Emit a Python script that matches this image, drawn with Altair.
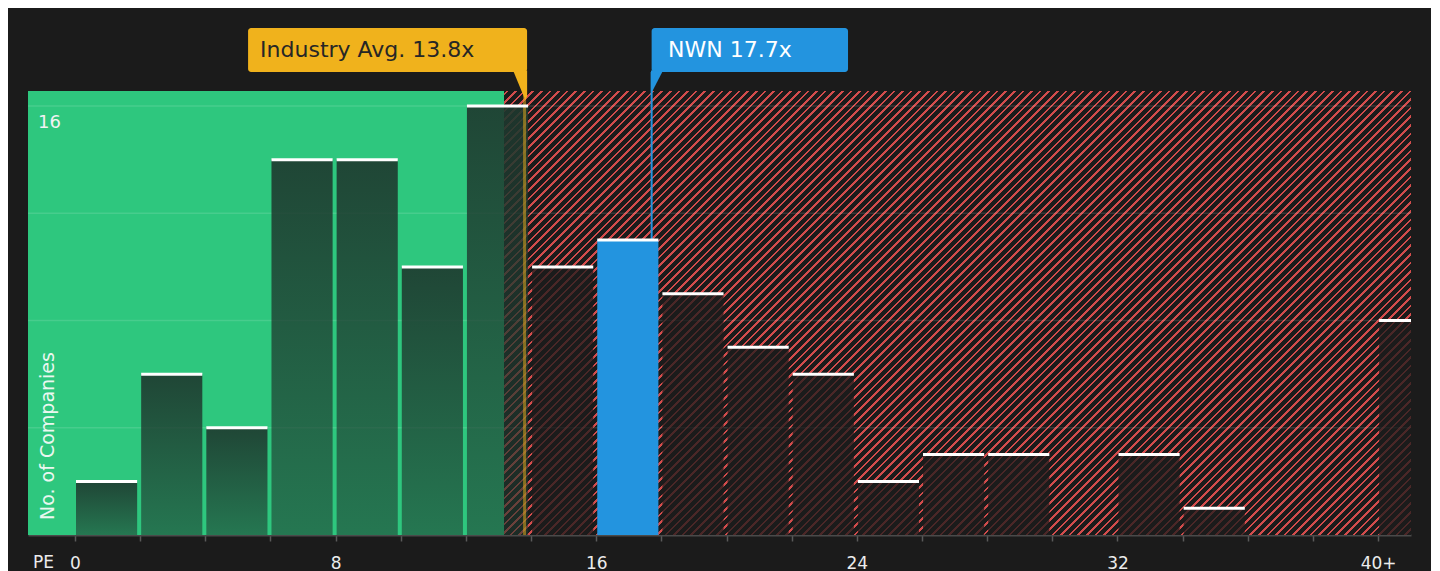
import altair as alt
import pandas as pd

# ---------------- data ----------------
bin_starts = [0, 2, 4, 6, 8, 10, 12, 14, 16, 18, 20, 22, 24, 26, 28, 30, 32, 34, 36, 38, 40]
counts = [2, 6, 4, 14, 14, 10, 16, 10, 11, 9, 7, 6, 2, 3, 3, 0, 3, 1, 0, 0, 8]
BIN_WIDTH = 2
tick_values = list(range(0, 42, 2))
label_every = 8
y_label_values = [16]
grid_values = [4, 8, 12, 16]

INDUSTRY_AVG = 13.8
NWN_PE = 17.7
GREEN_END = 13.17
X_DOMAIN = [-1.443, 41.01]
Y_DOMAIN = [0, 16.56]

# ---------------- style ----------------
W, H = 1383, 444
BG = "#1b1b1b"
GREEN = "#2ec77e"
RED = "#d24c4c"
YELLOW = "#f0b21c"
BLUE = "#2394df"
FONT = "DejaVu Sans"

bars = pd.DataFrame({"start": bin_starts, "count": counts})
bars["end"] = bars["start"] + BIN_WIDTH
nwn_count = int(bars[(bars.start <= NWN_PE) & (bars.end > NWN_PE)]["count"].iloc[0])

# hatch pattern as a striped linear gradient (stripes of slope 45deg)
hatch_w = (X_DOMAIN[1] - GREEN_END) * W / (X_DOMAIN[1] - X_DOMAIN[0])
hatch_h = H
L = hatch_w + hatch_h
s = (hatch_w + hatch_h) * hatch_w / (hatch_w ** 2 + hatch_h ** 2)
period = 8.6
red_w = 2.6
stops = [{"offset": 0, "color": BG}]
k = 0
while k * period < L:
    a = (k * period + 2.0) / L
    b = (k * period + 2.0 + red_w) / L
    if a >= 1:
        break
    b = min(b, 1)
    stops += [{"offset": a, "color": BG}, {"offset": a, "color": RED},
              {"offset": b, "color": RED}, {"offset": b, "color": BG}]
    k += 1
stops.append({"offset": 1, "color": BG})
hatch_fill = {"gradient": "linear", "x1": 0, "y1": 0, "x2": s, "y2": s * hatch_h / hatch_w,
              "stops": stops}

green_bar_fill = {"gradient": "linear", "x1": 0, "y1": 0, "x2": 0, "y2": 1,
                  "stops": [{"offset": 0, "color": "rgba(30,56,46,0.9)"},
                            {"offset": 1, "color": "rgba(30,56,46,0.56)"}]}

xs = alt.Scale(domain=X_DOMAIN, nice=False, zero=False)
ys = alt.Scale(domain=Y_DOMAIN, nice=False, zero=False)

label_expr = (f"datum.value % {label_every} == 0 ? "
              f"(datum.value == {tick_values[-1]} ? datum.label + '+' : datum.label) : ''")
x_axis = alt.Axis(values=tick_values, labelExpr=label_expr, grid=False, title=None,
                  domainColor="#4a4a4a", domainWidth=2, tickColor="#5a5a5a", tickWidth=1.5,
                  tickSize=6, labelColor="#ececec", labelFontSize=17, labelFont=FONT,
                  labelPadding=22, labelBaseline="middle", labelOverlap=False, labelBound=False)

zones = pd.DataFrame({"x0": [X_DOMAIN[0], GREEN_END], "x1": [GREEN_END, X_DOMAIN[1]],
                      "zone": ["green", "red"]})

green_zone = alt.Chart(zones).transform_filter("datum.zone == 'green'").transform_calculate(
    ytop=f"{Y_DOMAIN[1]}", ybot="0").mark_rect(fill=GREEN).encode(
    x=alt.X("x0:Q", scale=xs, axis=x_axis, title=None),
    x2="x1:Q",
    y=alt.Y("ytop:Q", scale=ys, axis=None, title=None),
    y2="ybot:Q",
)
red_zone = alt.Chart(zones).transform_filter("datum.zone == 'red'").transform_calculate(
    ytop=f"{Y_DOMAIN[1]}", ybot="0").mark_rect(fill=hatch_fill).encode(
    x=alt.X("x0:Q", title=None), x2="x1:Q",
    y=alt.Y("ytop:Q", axis=None, title=None), y2="ybot:Q",
)

grid = alt.Chart(pd.DataFrame({"g": grid_values})).mark_rule(
    color="white", opacity=0.12, strokeWidth=1.5).encode(y=alt.Y("g:Q", axis=None, title=None))

base = alt.Chart(bars).transform_calculate(zero="0")
bar_kw = dict(xOffset=1, x2Offset=-3, clip=True)
bars_green = base.transform_filter("datum.start < 14").mark_rect(
    fill=green_bar_fill, **bar_kw).encode(
    x=alt.X("start:Q", title=None), x2="end:Q",
    y=alt.Y("count:Q", axis=None, title=None), y2="zero:Q")
bars_red = base.transform_filter(
    f"datum.start >= 14 && !(datum.start <= {NWN_PE} && datum.end > {NWN_PE})").mark_rect(
    fill=BG, fillOpacity=0.74, **bar_kw).encode(
    x=alt.X("start:Q", title=None), x2="end:Q",
    y=alt.Y("count:Q", axis=None, title=None), y2="zero:Q")
bar_nwn = base.transform_filter(
    f"datum.start <= {NWN_PE} && datum.end > {NWN_PE}").mark_rect(
    fill=BLUE, **bar_kw).encode(
    x=alt.X("start:Q", title=None), x2="end:Q",
    y=alt.Y("count:Q", axis=None, title=None), y2="zero:Q")

ann = pd.DataFrame({"avg": [INDUSTRY_AVG], "nwn": [NWN_PE], "nwn_count": [nwn_count],
                    "ytop": [Y_DOMAIN[1]], "ybot": [0]})

avg_line = alt.Chart(ann).mark_rule(color=YELLOW, opacity=0.5, strokeWidth=3).encode(
    x=alt.X("avg:Q", title=None), y=alt.Y("ytop:Q", axis=None, title=None), y2="ybot:Q")
nwn_line = alt.Chart(ann).mark_rule(color=BLUE, strokeWidth=2).encode(
    x=alt.X("nwn:Q", title=None), y=alt.Y("nwn_count:Q", axis=None, title=None),
    y2=alt.value(-19))

caps = base.transform_filter("datum.count > 0").mark_rule(
    color="white", strokeWidth=3, xOffset=1, x2Offset=-3, clip=True).encode(
    x=alt.X("start:Q", title=None), x2="end:Q", y=alt.Y("count:Q", axis=None, title=None))

# callouts
avg_box = alt.Chart(ann).mark_rect(fill=YELLOW, cornerRadius=3, xOffset=-276.5,
                                   x2Offset=2.5).encode(
    x=alt.X("avg:Q", title=None), x2="avg:Q", y=alt.value(-63), y2=alt.value(-19))
avg_tail = alt.Chart(ann).mark_point(
    shape="M-0.82,-1.1 L0.18,-1.1 L0.18,0.75 L0.05,1 Z", size=784, filled=True,
    fill=YELLOW, opacity=1, strokeWidth=0).encode(
    x=alt.X("avg:Q", title=None), y=alt.value(-5))
avg_text = alt.Chart(ann).mark_text(
    text=f"Industry Avg. {INDUSTRY_AVG}x", align="left", baseline="middle", fontSize=22,
    font=FONT, color="#262626", dx=-264.5).encode(
    x=alt.X("avg:Q", title=None), y=alt.value(-41))

nwn_box = alt.Chart(ann).mark_rect(fill=BLUE, cornerRadius=3, xOffset=0,
                                   x2Offset=196.4).encode(
    x=alt.X("nwn:Q", title=None), x2="nwn:Q", y=alt.value(-63), y2=alt.value(-19))
nwn_tail = alt.Chart(ann).mark_point(
    shape="M-0.05,-0.95 L0.95,-0.95 L0.05,0.8 L-0.05,0.8 Z", size=576, filled=True,
    fill=BLUE, opacity=1, strokeWidth=0).encode(
    x=alt.X("nwn:Q", title=None), y=alt.value(-9))
nwn_text = alt.Chart(ann).mark_text(
    text=f"NWN {NWN_PE}x", align="left", baseline="middle", fontSize=22,
    font=FONT, color="white", dx=16.4).encode(
    x=alt.X("nwn:Q", title=None), y=alt.value(-41))

ylab = alt.Chart(pd.DataFrame({"v": y_label_values})).mark_text(
    align="left", baseline="middle", fontSize=18, font=FONT, color="#f2f2f2", dy=16.5).encode(
    x=alt.value(10), y=alt.Y("v:Q", axis=None, title=None), text="v:Q")

ytitle = alt.Chart(ann).mark_text(
    text="No. of Companies", angle=270, align="left", baseline="middle", fontSize=19,
    font=FONT, color="#eaf7f0").encode(x=alt.value(20), y=alt.value(429))
pe_text = alt.Chart(ann).mark_text(
    text="PE", align="left", baseline="middle", fontSize=17, font=FONT,
    color="#ececec").encode(x=alt.value(5), y=alt.value(H + 28))

chart = alt.layer(
    green_zone, red_zone, grid, bars_green, bars_red, bar_nwn, avg_line, nwn_line, caps,
    avg_box, avg_tail, avg_text, nwn_box, nwn_tail, nwn_text, ylab, ytitle, pe_text,
).properties(
    width=W, height=H,
    autosize=alt.AutoSizeParams(type="none"),
    padding={"left": 20, "top": 83, "right": 20, "bottom": 36},
    background=BG,
).configure_view(stroke=None).configure_axisY(disable=True)

chart.save("out.html", embed_options={"renderer": "svg", "actions": False})
